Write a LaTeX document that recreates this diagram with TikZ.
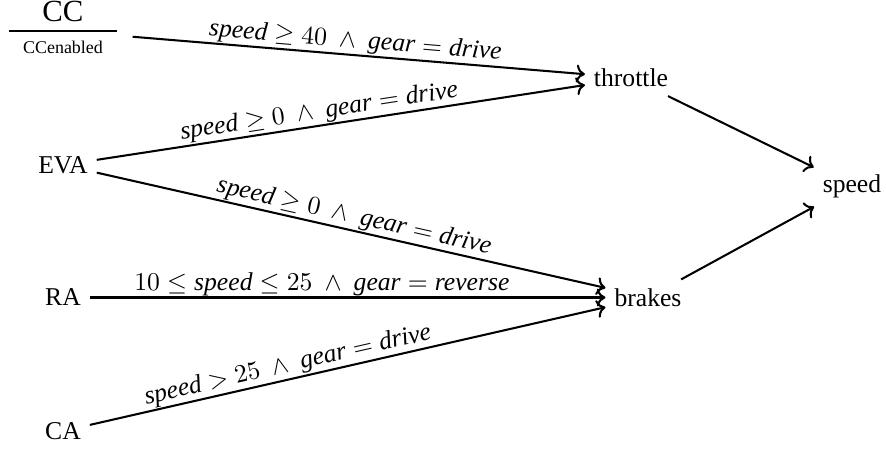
\documentclass[tikz,border=0pt]{standalone}
\usepackage[no-math]{fontspec}
\setmainfont{Liberation Serif}
\usetikzlibrary{arrows.meta}
\begin{document}
\begin{tikzpicture}[x=0.39pt,y=-0.39pt,
  var/.style={font=\normalsize},
  cond/.style={above, sloped, inner sep=0.4pt, font=\normalsize},
  conn/.style={-{To[length=3.4pt,width=7pt]}, line width=0.8pt}]
\useasboundingbox (0,0) rectangle (886,449);
\node[var, inner xsep=6pt] (cc) at (63,31) {\begin{tabular}{@{\hspace{5.4pt}}c@{\hspace{5.4pt}}}{\large CC}\\\hline\scriptsize CCenabled\end{tabular}};
\node[var] (throttle) at (631,78) {throttle};
\node[var] (eva) at (63,165) {EVA};
\node[var] (speed) at (852,186) {speed};
\node[var] (ra) at (63,297.5) {RA};
\node[var] (brakes) at (648,297.5) {brakes};
\node[var] (ca) at (63,431) {CA};
\draw[conn] (cc) -- node[cond,pos=0.49] {$\textit{speed}\geq 40\ \wedge\ \textit{gear}=\textit{drive}$} (throttle);
\draw[conn] (eva) -- node[cond,pos=0.46] {$\textit{speed}\geq 0\ \wedge\ \textit{gear}=\textit{drive}$} (throttle);
\draw[conn] (eva) -- node[cond,pos=0.5] {$\textit{speed}\geq 0\ \wedge\ \textit{gear}=\textit{drive}$} (brakes);
\draw[conn] (ra) -- node[cond,pos=0.45] {$10\leq\textit{speed}\leq 25\ \wedge\ \textit{gear}=\textit{reverse}$} (brakes);
\draw[conn] (ca) -- node[cond,pos=0.39] {$\textit{speed}>25\ \wedge\ \textit{gear}=\textit{drive}$} (brakes);
\draw[conn] (throttle) -- (speed);
\draw[conn] (brakes) -- (speed);
\end{tikzpicture}
\end{document}
